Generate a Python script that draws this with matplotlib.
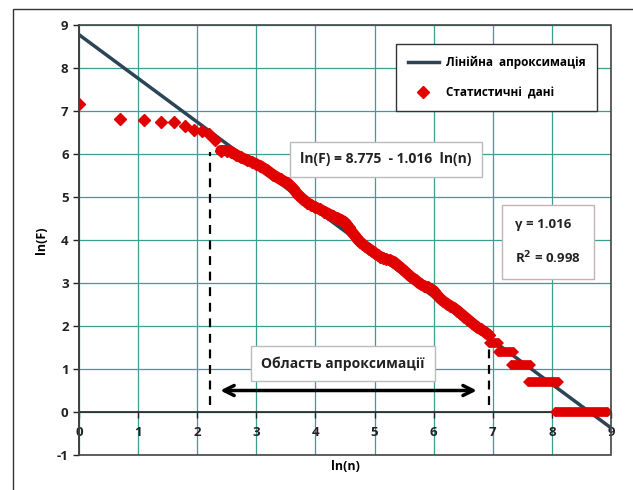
import numpy as np
import matplotlib.pyplot as plt
from matplotlib.patches import Rectangle

plt.rcParams['font.family'] = ['Open Sans', 'DejaVu Sans']
plt.rcParams['font.weight'] = 'bold'
plt.rcParams['axes.unicode_minus'] = False

# Fitted line ln(F) = a - b ln(n)
a_fit = 8.775
b_fit = 1.016
r2 = 0.998

# Statistical data: first (sparse) ranks
head_x = [0.0, 0.69, 1.10, 1.39, 1.61, 1.79, 1.95, 2.08, 2.20, 2.30]
head_y = [7.17, 6.81, 6.79, 6.74, 6.74, 6.64, 6.56, 6.53, 6.46, 6.33]

# dense part of the data (ln n, ln F)
body_x = [2.40, 2.50, 2.57, 2.66, 2.74, 2.84, 2.93, 3.00, 3.07, 3.18, 3.29, 3.41,
          3.53, 3.62, 3.70, 3.78, 3.86, 3.93, 4.00, 4.08, 4.15, 4.22, 4.30, 4.37,
          4.43, 4.48, 4.52, 4.56, 4.59, 4.64, 4.68, 4.72, 4.76, 4.83, 4.90, 4.95,
          5.00, 5.05, 5.10, 5.15, 5.20, 5.26, 5.32, 5.38, 5.45, 5.53, 5.61, 5.70,
          5.78, 5.84, 5.90, 5.95, 6.00, 6.05, 6.11, 6.16, 6.22, 6.28, 6.34, 6.40,
          6.45, 6.52, 6.58, 6.65, 6.73, 6.80, 6.87, 6.93]
body_y = [6.08, 6.08, 6.05, 5.98, 5.92, 5.86, 5.81, 5.76, 5.72, 5.62, 5.51, 5.41,
          5.32, 5.20, 5.06, 4.96, 4.87, 4.81, 4.76, 4.71, 4.66, 4.61, 4.55, 4.51,
          4.47, 4.43, 4.38, 4.30, 4.23, 4.15, 4.08, 4.01, 3.95, 3.87, 3.80, 3.75,
          3.70, 3.65, 3.61, 3.58, 3.55, 3.53, 3.50, 3.43, 3.35, 3.25, 3.15, 3.06,
          2.97, 2.93, 2.90, 2.86, 2.82, 2.73, 2.64, 2.58, 2.52, 2.47, 2.42, 2.36,
          2.30, 2.22, 2.15, 2.07, 1.98, 1.92, 1.86, 1.79]

# tail: plateaus of equal frequency F = 5, 4, 3, 2, 1
tail_level = [1.61, 1.39, 1.10, 0.69, 0.0]
tail_start = [6.93, 7.08, 7.30, 7.60, 8.06]
tail_end = [7.10, 7.36, 7.65, 8.12, 8.95]

# approximation region
reg_left = 2.21
reg_right = 6.93

red = '#e00000'
line_col = '#2b4557'
grid_col = '#3a9e90'

fig = plt.figure(figsize=(6.33, 4.9), dpi=100)
ax = fig.add_axes([79 / 633, 35 / 490, 532 / 633, 430 / 490])

# outer frame of the chart (only left and top edges fall inside the picture)
fig.patches.append(Rectangle((13 / 633, -0.05), 1.2, 1 - 9 / 490 + 0.05,
                             transform=fig.transFigure, fill=False,
                             ec='#333333', lw=1.0))

xl = np.array([0, 9])
ax.plot(xl, a_fit - b_fit * xl, color=line_col, lw=2.5, zorder=3,
        label='Лінійна  апроксимація')

ax.plot(head_x, head_y, 'D', color=red, ms=6, mec=red, zorder=4,
        label='Статистичні  дані')
ax.plot(body_x, body_y, '-', color=red, lw=8, zorder=4, solid_capstyle='round')
ax.plot(body_x, body_y, 'D', color=red, ms=6, zorder=4)
for lev, s, e in zip(tail_level, tail_start, tail_end):
    ax.plot([s, e], [lev, lev], '-', color=red, lw=7, zorder=4,
            solid_capstyle='butt')
    ax.plot([s, e], [lev, lev], 'D', color=red, ms=5, mew=0, zorder=4)

ax.set_xlim(0, 9)
ax.set_ylim(-1, 9)
ax.set_xticks(range(0, 10))
ax.set_yticks(range(-1, 10))
ax.grid(True, color=grid_col, lw=0.9)
ax.set_axisbelow(True)

ax.spines['bottom'].set_position(('data', 0))
for sp in ['top', 'right']:
    ax.spines[sp].set_visible(False)
ax.spines['left'].set_color('#222222')
ax.spines['bottom'].set_color('#222222')
ax.spines['left'].set_linewidth(1.2)
ax.spines['bottom'].set_linewidth(1.2)
ax.add_patch(Rectangle((0, 0), 1, 1, transform=ax.transAxes, fill=False,
                       ec='#444444', lw=1.2, clip_on=False, zorder=5))
ax.tick_params(direction='out', length=4, width=1, labelsize=9.5,
               colors='#222222')
ax.tick_params(axis='x', pad=6)
for lab in ax.get_xticklabels() + ax.get_yticklabels():
    lab.set_fontweight('bold')

ax.set_xlabel('ln(n)', fontsize=9, fontweight='bold')
ax.set_ylabel('ln(F)', fontsize=9, fontweight='bold')
ax.xaxis.set_label_coords(0.5, -0.012)
ax.yaxis.set_label_coords(-0.058, 0.5)

leg = ax.legend(loc='upper left', bbox_to_anchor=(0.596, 0.956),
                borderaxespad=0, fancybox=False, edgecolor='#333333',
                framealpha=1, fontsize=8.5, labelspacing=1.5,
                handlelength=2.6, borderpad=1.0, handletextpad=0.6)
leg.get_frame().set_linewidth(1.0)
for t in leg.get_texts():
    t.set_fontweight('bold')

# equation box
ax.text(5.19, 5.88, 'ln(F) = 8.775  - 1.016  ln(n)', ha='center', va='center',
        fontsize=10, fontweight='bold', color='#222222', zorder=6,
        bbox=dict(boxstyle='square,pad=0.75', fc='white', ec='#bbbbbb', lw=1))

# gamma / R^2 box
ax.text(7.94, 3.95, 'γ = {:.3f}\n\nR$^2$ = {:.3f}'.format(b_fit, r2),
        ha='center', va='center', multialignment='left',
        fontsize=9.5, fontweight='bold', color='#222222', zorder=6,
        bbox=dict(boxstyle='square,pad=1.0', fc='white', ec='#c8b0b8', lw=1))

# approximation region
ax.plot([reg_left, reg_left], [0.16, 6.05], '--', color='black', lw=1.6,
        dashes=(4, 3), zorder=5)
ax.plot([reg_right, reg_right], [0.16, 1.52], '--', color='black', lw=1.6,
        dashes=(4, 3), zorder=5)
ax.annotate('', xy=(2.39, 0.5), xytext=(6.73, 0.5),
            arrowprops=dict(arrowstyle='<->', color='black', lw=2.5,
                            mutation_scale=18, shrinkA=0, shrinkB=0), zorder=6)
ax.text(4.46, 1.12, 'Область апроксимації', ha='center', va='center',
        fontsize=10, fontweight='bold', color='#222222', zorder=6,
        bbox=dict(boxstyle='square,pad=0.75', fc='white', ec='#bbbbbb', lw=1))

fig.savefig('out.png', dpi=100)
